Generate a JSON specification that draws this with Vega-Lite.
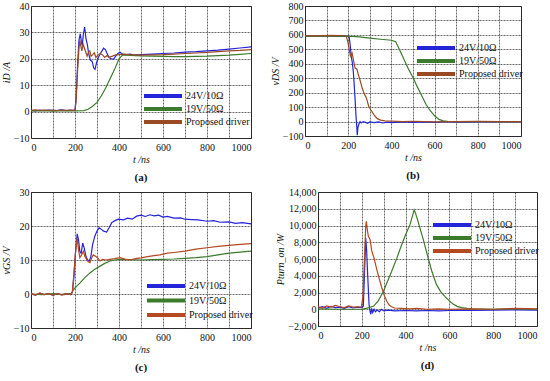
{
"$schema":"https://vega.github.io/schema/vega-lite/v6.json",
"padding":{"left":0,"top":0,"right":2,"bottom":0},
"background":"white",
"config":{
 "view":{"stroke":"#333","strokeWidth":1},
 "font":"Liberation Serif",
 "axis":{"grid":true,"gridColor":"#222","gridDash":[2,1],"gridWidth":0.8,"gridOpacity":0.85,"ticks":false,"domain":false,"labelFont":"Liberation Serif","labelFontSize":10,"labelColor":"#111","labelPadding":2,"titleFont":"Liberation Serif","titleFontSize":10,"titleFontStyle":"italic","titleFontWeight":"normal","titleColor":"#111","titlePadding":2},
 "axisX":{"format":"d","labelPadding":4},
 "legend":{"orient":"none","symbolType":"M-1,-0.5H8.5V0.5H-1Z","symbolStrokeWidth":0,"symbolSize":64,"symbolOpacity":1,"rowPadding":3,"labelFont":"Liberation Serif","labelFontSize":10,"labelColor":"#111","title":null,"labelOffset":33,"padding":0},
 "title":{"font":"Liberation Serif","fontSize":11,"fontWeight":"bold","color":"#111","offset":8},
 "line":{"strokeWidth":1.2}
},
"spacing":2,
"resolve":{"scale":{"fill":"independent"},"legend":{"fill":"independent"}},
"vconcat":[
{"hconcat":[
 {"width":220,"height":132,
  "data":{"values":[
   {"s":"24V/10Ω","t":0,"v":0.5},{"s":"24V/10Ω","t":20,"v":0.3},{"s":"24V/10Ω","t":40,"v":0.6},{"s":"24V/10Ω","t":60,"v":0.4},{"s":"24V/10Ω","t":80,"v":0.6},{"s":"24V/10Ω","t":100,"v":0.4},{"s":"24V/10Ω","t":120,"v":0.5},{"s":"24V/10Ω","t":140,"v":0.7},{"s":"24V/10Ω","t":160,"v":0.4},{"s":"24V/10Ω","t":180,"v":0.5},{"s":"24V/10Ω","t":200,"v":0.6},{"s":"24V/10Ω","t":205,"v":5},{"s":"24V/10Ω","t":212,"v":18},{"s":"24V/10Ω","t":218,"v":27},{"s":"24V/10Ω","t":224,"v":29.5},{"s":"24V/10Ω","t":229,"v":26.5},{"s":"24V/10Ω","t":233,"v":25},{"s":"24V/10Ω","t":238,"v":29.5},{"s":"24V/10Ω","t":244,"v":32},{"s":"24V/10Ω","t":250,"v":27.5},{"s":"24V/10Ω","t":256,"v":25.5},{"s":"24V/10Ω","t":262,"v":22},{"s":"24V/10Ω","t":270,"v":19.5},{"s":"24V/10Ω","t":278,"v":19},{"s":"24V/10Ω","t":285,"v":16.5},{"s":"24V/10Ω","t":291,"v":16},{"s":"24V/10Ω","t":298,"v":18.5},{"s":"24V/10Ω","t":306,"v":20.5},{"s":"24V/10Ω","t":315,"v":22},{"s":"24V/10Ω","t":323,"v":23},{"s":"24V/10Ω","t":330,"v":24},{"s":"24V/10Ω","t":338,"v":23.5},{"s":"24V/10Ω","t":346,"v":22},{"s":"24V/10Ω","t":355,"v":20.5},{"s":"24V/10Ω","t":365,"v":20},{"s":"24V/10Ω","t":375,"v":19.8},{"s":"24V/10Ω","t":385,"v":21},{"s":"24V/10Ω","t":395,"v":22},{"s":"24V/10Ω","t":405,"v":22.5},{"s":"24V/10Ω","t":415,"v":21.8},{"s":"24V/10Ω","t":430,"v":21.5},{"s":"24V/10Ω","t":450,"v":21.8},{"s":"24V/10Ω","t":470,"v":21.4},{"s":"24V/10Ω","t":500,"v":21.6},{"s":"24V/10Ω","t":550,"v":21.8},{"s":"24V/10Ω","t":600,"v":22},{"s":"24V/10Ω","t":650,"v":22.2},{"s":"24V/10Ω","t":700,"v":22.5},{"s":"24V/10Ω","t":750,"v":22.7},{"s":"24V/10Ω","t":800,"v":23},{"s":"24V/10Ω","t":850,"v":23.3},{"s":"24V/10Ω","t":900,"v":23.7},{"s":"24V/10Ω","t":950,"v":24.1},{"s":"24V/10Ω","t":1000,"v":24.5},
   {"s":"19V/50Ω","t":0,"v":0.3},{"s":"19V/50Ω","t":50,"v":0.4},{"s":"19V/50Ω","t":100,"v":0.2},{"s":"19V/50Ω","t":150,"v":0.4},{"s":"19V/50Ω","t":200,"v":0.3},{"s":"19V/50Ω","t":240,"v":0.4},{"s":"19V/50Ω","t":260,"v":0.9},{"s":"19V/50Ω","t":280,"v":2},{"s":"19V/50Ω","t":300,"v":3.5},{"s":"19V/50Ω","t":320,"v":6},{"s":"19V/50Ω","t":340,"v":9},{"s":"19V/50Ω","t":360,"v":12.5},{"s":"19V/50Ω","t":380,"v":16},{"s":"19V/50Ω","t":400,"v":20},{"s":"19V/50Ω","t":415,"v":21.3},{"s":"19V/50Ω","t":430,"v":21.5},{"s":"19V/50Ω","t":450,"v":21.3},{"s":"19V/50Ω","t":500,"v":21.1},{"s":"19V/50Ω","t":550,"v":21},{"s":"19V/50Ω","t":600,"v":20.9},{"s":"19V/50Ω","t":650,"v":20.8},{"s":"19V/50Ω","t":700,"v":20.8},{"s":"19V/50Ω","t":750,"v":20.9},{"s":"19V/50Ω","t":800,"v":21},{"s":"19V/50Ω","t":850,"v":21.2},{"s":"19V/50Ω","t":900,"v":21.4},{"s":"19V/50Ω","t":950,"v":21.7},{"s":"19V/50Ω","t":1000,"v":22},
   {"s":"Proposed driver","t":0,"v":0.5},{"s":"Proposed driver","t":20,"v":0.7},{"s":"Proposed driver","t":40,"v":0.4},{"s":"Proposed driver","t":60,"v":0.6},{"s":"Proposed driver","t":80,"v":0.5},{"s":"Proposed driver","t":100,"v":0.6},{"s":"Proposed driver","t":120,"v":0.4},{"s":"Proposed driver","t":140,"v":0.6},{"s":"Proposed driver","t":160,"v":0.5},{"s":"Proposed driver","t":180,"v":0.6},{"s":"Proposed driver","t":200,"v":0.5},{"s":"Proposed driver","t":205,"v":4},{"s":"Proposed driver","t":212,"v":16},{"s":"Proposed driver","t":218,"v":24},{"s":"Proposed driver","t":222,"v":27},{"s":"Proposed driver","t":226,"v":25},{"s":"Proposed driver","t":231,"v":23},{"s":"Proposed driver","t":237,"v":25.5},{"s":"Proposed driver","t":243,"v":24},{"s":"Proposed driver","t":249,"v":22.5},{"s":"Proposed driver","t":255,"v":21},{"s":"Proposed driver","t":261,"v":22.5},{"s":"Proposed driver","t":267,"v":23},{"s":"Proposed driver","t":273,"v":21},{"s":"Proposed driver","t":280,"v":21.5},{"s":"Proposed driver","t":288,"v":22.3},{"s":"Proposed driver","t":295,"v":20.5},{"s":"Proposed driver","t":305,"v":21.5},{"s":"Proposed driver","t":315,"v":22},{"s":"Proposed driver","t":325,"v":21.5},{"s":"Proposed driver","t":335,"v":20.5},{"s":"Proposed driver","t":345,"v":21.2},{"s":"Proposed driver","t":355,"v":20.6},{"s":"Proposed driver","t":370,"v":21},{"s":"Proposed driver","t":385,"v":21.5},{"s":"Proposed driver","t":400,"v":21.6},{"s":"Proposed driver","t":420,"v":21.8},{"s":"Proposed driver","t":450,"v":21.6},{"s":"Proposed driver","t":500,"v":21.4},{"s":"Proposed driver","t":550,"v":21.5},{"s":"Proposed driver","t":600,"v":21.6},{"s":"Proposed driver","t":650,"v":21.8},{"s":"Proposed driver","t":700,"v":22},{"s":"Proposed driver","t":750,"v":22.2},{"s":"Proposed driver","t":800,"v":22.4},{"s":"Proposed driver","t":850,"v":22.7},{"s":"Proposed driver","t":900,"v":23},{"s":"Proposed driver","t":950,"v":23.2},{"s":"Proposed driver","t":1000,"v":23.5}
  ]},
  "encoding":{
   "x":{"field":"t","type":"quantitative","scale":{"domain":[0,1000],"nice":false},"axis":{"values":[0,100,200,300,400,500,600,700,800,900,1000],"title":"t /ns"}},
   "y":{"field":"v","type":"quantitative","scale":{"domain":[-10,40],"nice":false},"axis":{"values":[-10,0,10,20,30,40],"title":"iD /A"}}
  },
  "layer":[
   {"transform":[{"filter":"datum.s === '24V/10Ω'"}],"mark":{"type":"line","color":"#2424d8"}},
   {"transform":[{"filter":"datum.s === '19V/50Ω'"}],"mark":{"type":"line","color":"#3c7a2c"}},
   {"transform":[{"filter":"datum.s === 'Proposed driver'"}],"mark":{"type":"line","color":"#9a4a22"}},
   {"transform":[{"filter":"datum.t < -1"}],"mark":{"type":"point","filled":true,"opacity":1,"size":64,"shape":"M-1,-0.5H8.5V0.5H-1Z"},"encoding":{"fill":{"field":"s","type":"nominal","scale":{"domain":["24V/10Ω","19V/50Ω","Proposed driver"],"range":["#2424d8","#3c7a2c","#9a4a22"]},"legend":{"legendX":112,"legendY":85}}}}
  ],
  "title":{"text":"(a)","orient":"bottom","frame":"group"}
 },
 {"width":216,"height":130,
  "data":{"values":[
   {"s":"24V/10Ω","t":0,"v":592},{"s":"24V/10Ω","t":50,"v":589},{"s":"24V/10Ω","t":100,"v":593},{"s":"24V/10Ω","t":150,"v":590},{"s":"24V/10Ω","t":200,"v":591},{"s":"24V/10Ω","t":205,"v":580},{"s":"24V/10Ω","t":210,"v":520},{"s":"24V/10Ω","t":214,"v":450},{"s":"24V/10Ω","t":219,"v":410},{"s":"24V/10Ω","t":224,"v":340},{"s":"24V/10Ω","t":228,"v":250},{"s":"24V/10Ω","t":232,"v":150},{"s":"24V/10Ω","t":236,"v":40},{"s":"24V/10Ω","t":239,"v":-20},{"s":"24V/10Ω","t":242,"v":-95},{"s":"24V/10Ω","t":245,"v":-40},{"s":"24V/10Ω","t":250,"v":-15},{"s":"24V/10Ω","t":255,"v":0},{"s":"24V/10Ω","t":260,"v":-10},{"s":"24V/10Ω","t":270,"v":0},{"s":"24V/10Ω","t":280,"v":-6},{"s":"24V/10Ω","t":290,"v":-12},{"s":"24V/10Ω","t":300,"v":-3},{"s":"24V/10Ω","t":320,"v":-8},{"s":"24V/10Ω","t":340,"v":-2},{"s":"24V/10Ω","t":360,"v":-10},{"s":"24V/10Ω","t":380,"v":-4},{"s":"24V/10Ω","t":400,"v":-8},{"s":"24V/10Ω","t":450,"v":-3},{"s":"24V/10Ω","t":500,"v":-6},{"s":"24V/10Ω","t":550,"v":-2},{"s":"24V/10Ω","t":600,"v":-5},{"s":"24V/10Ω","t":650,"v":-1},{"s":"24V/10Ω","t":700,"v":-4},{"s":"24V/10Ω","t":800,"v":-2},{"s":"24V/10Ω","t":900,"v":-3},{"s":"24V/10Ω","t":1000,"v":-2},
   {"s":"19V/50Ω","t":0,"v":590},{"s":"19V/50Ω","t":100,"v":591},{"s":"19V/50Ω","t":220,"v":590},{"s":"19V/50Ω","t":250,"v":586},{"s":"19V/50Ω","t":300,"v":578},{"s":"19V/50Ω","t":350,"v":570},{"s":"19V/50Ω","t":400,"v":563},{"s":"19V/50Ω","t":420,"v":553},{"s":"19V/50Ω","t":440,"v":490},{"s":"19V/50Ω","t":460,"v":425},{"s":"19V/50Ω","t":480,"v":360},{"s":"19V/50Ω","t":500,"v":305},{"s":"19V/50Ω","t":520,"v":240},{"s":"19V/50Ω","t":540,"v":180},{"s":"19V/50Ω","t":560,"v":120},{"s":"19V/50Ω","t":580,"v":75},{"s":"19V/50Ω","t":600,"v":40},{"s":"19V/50Ω","t":620,"v":15},{"s":"19V/50Ω","t":640,"v":5},{"s":"19V/50Ω","t":660,"v":2},{"s":"19V/50Ω","t":700,"v":0},{"s":"19V/50Ω","t":800,"v":0},{"s":"19V/50Ω","t":900,"v":-1},{"s":"19V/50Ω","t":1000,"v":0},
   {"s":"Proposed driver","t":0,"v":595},{"s":"Proposed driver","t":60,"v":593},{"s":"Proposed driver","t":120,"v":596},{"s":"Proposed driver","t":185,"v":594},{"s":"Proposed driver","t":192,"v":588},{"s":"Proposed driver","t":200,"v":540},{"s":"Proposed driver","t":210,"v":455},{"s":"Proposed driver","t":218,"v":475},{"s":"Proposed driver","t":225,"v":420},{"s":"Proposed driver","t":232,"v":370},{"s":"Proposed driver","t":240,"v":365},{"s":"Proposed driver","t":248,"v":320},{"s":"Proposed driver","t":256,"v":280},{"s":"Proposed driver","t":265,"v":230},{"s":"Proposed driver","t":275,"v":190},{"s":"Proposed driver","t":285,"v":160},{"s":"Proposed driver","t":295,"v":105},{"s":"Proposed driver","t":305,"v":80},{"s":"Proposed driver","t":320,"v":45},{"s":"Proposed driver","t":335,"v":20},{"s":"Proposed driver","t":350,"v":10},{"s":"Proposed driver","t":370,"v":5},{"s":"Proposed driver","t":400,"v":3},{"s":"Proposed driver","t":450,"v":0},{"s":"Proposed driver","t":500,"v":2},{"s":"Proposed driver","t":600,"v":-2},{"s":"Proposed driver","t":700,"v":0},{"s":"Proposed driver","t":800,"v":1},{"s":"Proposed driver","t":900,"v":-1},{"s":"Proposed driver","t":1000,"v":0}
  ]},
  "encoding":{
   "x":{"field":"t","type":"quantitative","scale":{"domain":[0,1000],"nice":false},"axis":{"values":[0,100,200,300,400,500,600,700,800,900,1000],"title":"t /ns"}},
   "y":{"field":"v","type":"quantitative","scale":{"domain":[-100,800],"nice":false},"axis":{"values":[-100,0,100,200,300,400,500,600,700,800],"title":"vDS /V"}}
  },
  "layer":[
   {"transform":[{"filter":"datum.s === '24V/10Ω'"}],"mark":{"type":"line","color":"#2424d8"}},
   {"transform":[{"filter":"datum.s === '19V/50Ω'"}],"mark":{"type":"line","color":"#3c7a2c"}},
   {"transform":[{"filter":"datum.s === 'Proposed driver'"}],"mark":{"type":"line","color":"#9a4a22"}},
   {"transform":[{"filter":"datum.t < -1"}],"mark":{"type":"point","filled":true,"opacity":1,"size":64,"shape":"M-1,-0.5H8.5V0.5H-1Z"},"encoding":{"fill":{"field":"s","type":"nominal","scale":{"domain":["24V/10Ω","19V/50Ω","Proposed driver"],"range":["#2424d8","#3c7a2c","#9a4a22"]},"legend":{"legendX":111,"legendY":37}}}}
  ],
  "title":{"text":"(b)","orient":"bottom","frame":"group"}
 }
],"spacing":15,"resolve":{"scale":{"fill":"independent"},"legend":{"fill":"independent"}}},
{"hconcat":[
 {"width":220,"height":136,
  "data":{"values":[
   {"s":"24V/10Ω","t":0,"v":0},{"s":"24V/10Ω","t":20,"v":-0.3},{"s":"24V/10Ω","t":40,"v":0.2},{"s":"24V/10Ω","t":60,"v":-0.2},{"s":"24V/10Ω","t":80,"v":0.1},{"s":"24V/10Ω","t":100,"v":-0.3},{"s":"24V/10Ω","t":120,"v":0},{"s":"24V/10Ω","t":140,"v":-0.2},{"s":"24V/10Ω","t":160,"v":0.1},{"s":"24V/10Ω","t":180,"v":-0.2},{"s":"24V/10Ω","t":188,"v":0.5},{"s":"24V/10Ω","t":195,"v":5},{"s":"24V/10Ω","t":202,"v":12},{"s":"24V/10Ω","t":210,"v":17.7},{"s":"24V/10Ω","t":216,"v":16},{"s":"24V/10Ω","t":222,"v":12.5},{"s":"24V/10Ω","t":228,"v":12},{"s":"24V/10Ω","t":235,"v":15},{"s":"24V/10Ω","t":242,"v":13.5},{"s":"24V/10Ω","t":250,"v":11},{"s":"24V/10Ω","t":258,"v":10},{"s":"24V/10Ω","t":265,"v":9.7},{"s":"24V/10Ω","t":272,"v":11},{"s":"24V/10Ω","t":280,"v":14.5},{"s":"24V/10Ω","t":290,"v":17},{"s":"24V/10Ω","t":300,"v":18.5},{"s":"24V/10Ω","t":310,"v":19.5},{"s":"24V/10Ω","t":320,"v":19},{"s":"24V/10Ω","t":330,"v":18.5},{"s":"24V/10Ω","t":344,"v":18.2},{"s":"24V/10Ω","t":355,"v":19.5},{"s":"24V/10Ω","t":367,"v":21},{"s":"24V/10Ω","t":380,"v":21.5},{"s":"24V/10Ω","t":397,"v":22},{"s":"24V/10Ω","t":420,"v":21.8},{"s":"24V/10Ω","t":440,"v":22.3},{"s":"24V/10Ω","t":460,"v":22},{"s":"24V/10Ω","t":480,"v":22.9},{"s":"24V/10Ω","t":500,"v":23.2},{"s":"24V/10Ω","t":520,"v":22.8},{"s":"24V/10Ω","t":540,"v":23.3},{"s":"24V/10Ω","t":560,"v":23},{"s":"24V/10Ω","t":580,"v":23.2},{"s":"24V/10Ω","t":600,"v":22.6},{"s":"24V/10Ω","t":620,"v":22.8},{"s":"24V/10Ω","t":650,"v":22.3},{"s":"24V/10Ω","t":680,"v":22.4},{"s":"24V/10Ω","t":700,"v":22},{"s":"24V/10Ω","t":730,"v":21.9},{"s":"24V/10Ω","t":760,"v":21.8},{"s":"24V/10Ω","t":800,"v":21.4},{"s":"24V/10Ω","t":830,"v":21.6},{"s":"24V/10Ω","t":860,"v":21.1},{"s":"24V/10Ω","t":900,"v":21.2},{"s":"24V/10Ω","t":930,"v":20.8},{"s":"24V/10Ω","t":960,"v":21},{"s":"24V/10Ω","t":1000,"v":20.6},
   {"s":"19V/50Ω","t":0,"v":0},{"s":"19V/50Ω","t":50,"v":-0.2},{"s":"19V/50Ω","t":100,"v":0.1},{"s":"19V/50Ω","t":150,"v":-0.2},{"s":"19V/50Ω","t":185,"v":0.2},{"s":"19V/50Ω","t":190,"v":1},{"s":"19V/50Ω","t":200,"v":1.8},{"s":"19V/50Ω","t":222,"v":3.2},{"s":"19V/50Ω","t":245,"v":4.8},{"s":"19V/50Ω","t":268,"v":6.2},{"s":"19V/50Ω","t":290,"v":7.3},{"s":"19V/50Ω","t":314,"v":8.2},{"s":"19V/50Ω","t":335,"v":9},{"s":"19V/50Ω","t":359,"v":9.7},{"s":"19V/50Ω","t":380,"v":10},{"s":"19V/50Ω","t":405,"v":10.2},{"s":"19V/50Ω","t":450,"v":10.1},{"s":"19V/50Ω","t":500,"v":10},{"s":"19V/50Ω","t":550,"v":10.1},{"s":"19V/50Ω","t":600,"v":10.2},{"s":"19V/50Ω","t":650,"v":10.3},{"s":"19V/50Ω","t":700,"v":10.5},{"s":"19V/50Ω","t":750,"v":10.7},{"s":"19V/50Ω","t":800,"v":11},{"s":"19V/50Ω","t":850,"v":11.5},{"s":"19V/50Ω","t":900,"v":12},{"s":"19V/50Ω","t":950,"v":12.3},{"s":"19V/50Ω","t":1000,"v":12.6},
   {"s":"Proposed driver","t":0,"v":0.2},{"s":"Proposed driver","t":20,"v":-0.3},{"s":"Proposed driver","t":40,"v":0.3},{"s":"Proposed driver","t":60,"v":-0.2},{"s":"Proposed driver","t":80,"v":0.1},{"s":"Proposed driver","t":100,"v":-0.4},{"s":"Proposed driver","t":120,"v":0.2},{"s":"Proposed driver","t":140,"v":-0.3},{"s":"Proposed driver","t":160,"v":0.1},{"s":"Proposed driver","t":180,"v":-0.2},{"s":"Proposed driver","t":188,"v":0.5},{"s":"Proposed driver","t":195,"v":6},{"s":"Proposed driver","t":202,"v":12},{"s":"Proposed driver","t":210,"v":16.6},{"s":"Proposed driver","t":216,"v":13},{"s":"Proposed driver","t":222,"v":10.7},{"s":"Proposed driver","t":230,"v":11.5},{"s":"Proposed driver","t":238,"v":12.6},{"s":"Proposed driver","t":245,"v":11},{"s":"Proposed driver","t":253,"v":10.2},{"s":"Proposed driver","t":260,"v":9.5},{"s":"Proposed driver","t":268,"v":9.2},{"s":"Proposed driver","t":275,"v":10.5},{"s":"Proposed driver","t":283,"v":11.5},{"s":"Proposed driver","t":295,"v":11},{"s":"Proposed driver","t":305,"v":10.5},{"s":"Proposed driver","t":314,"v":9.7},{"s":"Proposed driver","t":325,"v":10.2},{"s":"Proposed driver","t":340,"v":10},{"s":"Proposed driver","t":359,"v":10.2},{"s":"Proposed driver","t":380,"v":10.4},{"s":"Proposed driver","t":405,"v":10.7},{"s":"Proposed driver","t":430,"v":10.2},{"s":"Proposed driver","t":450,"v":10},{"s":"Proposed driver","t":480,"v":10.5},{"s":"Proposed driver","t":500,"v":10.6},{"s":"Proposed driver","t":530,"v":11},{"s":"Proposed driver","t":560,"v":11.3},{"s":"Proposed driver","t":586,"v":11.5},{"s":"Proposed driver","t":620,"v":12},{"s":"Proposed driver","t":650,"v":12.2},{"s":"Proposed driver","t":700,"v":12.6},{"s":"Proposed driver","t":750,"v":13.2},{"s":"Proposed driver","t":800,"v":13.6},{"s":"Proposed driver","t":850,"v":14},{"s":"Proposed driver","t":900,"v":14.3},{"s":"Proposed driver","t":950,"v":14.6},{"s":"Proposed driver","t":1000,"v":14.8}
  ]},
  "encoding":{
   "x":{"field":"t","type":"quantitative","scale":{"domain":[0,1000],"nice":false},"axis":{"values":[0,100,200,300,400,500,600,700,800,900,1000],"title":"t /ns"}},
   "y":{"field":"v","type":"quantitative","scale":{"domain":[-10,30],"nice":false},"axis":{"values":[-10,0,10,20,30],"title":"vGS /V"}}
  },
  "layer":[
   {"transform":[{"filter":"datum.s === '24V/10Ω'"}],"mark":{"type":"line","color":"#2424d8"}},
   {"transform":[{"filter":"datum.s === '19V/50Ω'"}],"mark":{"type":"line","color":"#3c7a2c"}},
   {"transform":[{"filter":"datum.s === 'Proposed driver'"}],"mark":{"type":"line","color":"#b44820"}},
   {"transform":[{"filter":"datum.t < -1"}],"mark":{"type":"point","filled":true,"opacity":1,"size":64,"shape":"M-1,-0.5H8.5V0.5H-1Z"},"encoding":{"fill":{"field":"s","type":"nominal","scale":{"domain":["24V/10Ω","19V/50Ω","Proposed driver"],"range":["#2424d8","#3c7a2c","#b44820"]},"legend":{"legendX":115,"legendY":89,"rowPadding":4.5}}}}
  ],
  "title":{"text":"(c)","orient":"bottom","frame":"group"}
 },
 {"width":219,"height":134,
  "data":{"values":[
   {"s":"24V/10Ω","t":0,"v":150},{"s":"24V/10Ω","t":20,"v":300},{"s":"24V/10Ω","t":40,"v":100},{"s":"24V/10Ω","t":60,"v":350},{"s":"24V/10Ω","t":80,"v":200},{"s":"24V/10Ω","t":100,"v":250},{"s":"24V/10Ω","t":120,"v":100},{"s":"24V/10Ω","t":140,"v":300},{"s":"24V/10Ω","t":160,"v":150},{"s":"24V/10Ω","t":180,"v":250},{"s":"24V/10Ω","t":200,"v":200},{"s":"24V/10Ω","t":207,"v":400},{"s":"24V/10Ω","t":212,"v":4000},{"s":"24V/10Ω","t":218,"v":8500},{"s":"24V/10Ω","t":222,"v":7000},{"s":"24V/10Ω","t":227,"v":4000},{"s":"24V/10Ω","t":233,"v":600},{"s":"24V/10Ω","t":238,"v":-300},{"s":"24V/10Ω","t":241,"v":-600},{"s":"24V/10Ω","t":245,"v":100},{"s":"24V/10Ω","t":250,"v":-400},{"s":"24V/10Ω","t":256,"v":0},{"s":"24V/10Ω","t":262,"v":-300},{"s":"24V/10Ω","t":270,"v":-100},{"s":"24V/10Ω","t":280,"v":-300},{"s":"24V/10Ω","t":290,"v":0},{"s":"24V/10Ω","t":300,"v":-200},{"s":"24V/10Ω","t":320,"v":-100},{"s":"24V/10Ω","t":350,"v":-200},{"s":"24V/10Ω","t":400,"v":-150},{"s":"24V/10Ω","t":450,"v":-200},{"s":"24V/10Ω","t":500,"v":-150},{"s":"24V/10Ω","t":550,"v":-200},{"s":"24V/10Ω","t":600,"v":-150},{"s":"24V/10Ω","t":650,"v":-100},{"s":"24V/10Ω","t":700,"v":-150},{"s":"24V/10Ω","t":800,"v":-100},{"s":"24V/10Ω","t":900,"v":-80},{"s":"24V/10Ω","t":1000,"v":-100},
   {"s":"19V/50Ω","t":0,"v":50},{"s":"19V/50Ω","t":100,"v":0},{"s":"19V/50Ω","t":200,"v":0},{"s":"19V/50Ω","t":220,"v":100},{"s":"19V/50Ω","t":253,"v":350},{"s":"19V/50Ω","t":275,"v":1000},{"s":"19V/50Ω","t":298,"v":2100},{"s":"19V/50Ω","t":320,"v":3500},{"s":"19V/50Ω","t":336,"v":4500},{"s":"19V/50Ω","t":360,"v":6100},{"s":"19V/50Ω","t":382,"v":7700},{"s":"19V/50Ω","t":400,"v":8900},{"s":"19V/50Ω","t":420,"v":10100},{"s":"19V/50Ω","t":432,"v":11200},{"s":"19V/50Ω","t":439,"v":11850},{"s":"19V/50Ω","t":445,"v":11500},{"s":"19V/50Ω","t":460,"v":10200},{"s":"19V/50Ω","t":480,"v":8400},{"s":"19V/50Ω","t":500,"v":6400},{"s":"19V/50Ω","t":519,"v":4600},{"s":"19V/50Ω","t":540,"v":3000},{"s":"19V/50Ω","t":560,"v":2100},{"s":"19V/50Ω","t":580,"v":1500},{"s":"19V/50Ω","t":600,"v":1000},{"s":"19V/50Ω","t":615,"v":650},{"s":"19V/50Ω","t":635,"v":350},{"s":"19V/50Ω","t":656,"v":200},{"s":"19V/50Ω","t":680,"v":100},{"s":"19V/50Ω","t":700,"v":50},{"s":"19V/50Ω","t":800,"v":0},{"s":"19V/50Ω","t":900,"v":50},{"s":"19V/50Ω","t":1000,"v":0},
   {"s":"Proposed driver","t":0,"v":300},{"s":"Proposed driver","t":20,"v":150},{"s":"Proposed driver","t":40,"v":400},{"s":"Proposed driver","t":60,"v":250},{"s":"Proposed driver","t":80,"v":450},{"s":"Proposed driver","t":100,"v":300},{"s":"Proposed driver","t":120,"v":200},{"s":"Proposed driver","t":140,"v":400},{"s":"Proposed driver","t":160,"v":250},{"s":"Proposed driver","t":180,"v":300},{"s":"Proposed driver","t":198,"v":250},{"s":"Proposed driver","t":205,"v":1500},{"s":"Proposed driver","t":212,"v":6000},{"s":"Proposed driver","t":218,"v":10000},{"s":"Proposed driver","t":221,"v":10500},{"s":"Proposed driver","t":225,"v":9500},{"s":"Proposed driver","t":230,"v":8700},{"s":"Proposed driver","t":238,"v":8300},{"s":"Proposed driver","t":245,"v":7000},{"s":"Proposed driver","t":255,"v":6200},{"s":"Proposed driver","t":268,"v":4800},{"s":"Proposed driver","t":280,"v":3600},{"s":"Proposed driver","t":291,"v":2600},{"s":"Proposed driver","t":302,"v":1700},{"s":"Proposed driver","t":314,"v":950},{"s":"Proposed driver","t":325,"v":500},{"s":"Proposed driver","t":336,"v":300},{"s":"Proposed driver","t":350,"v":150},{"s":"Proposed driver","t":380,"v":100},{"s":"Proposed driver","t":420,"v":50},{"s":"Proposed driver","t":450,"v":100},{"s":"Proposed driver","t":500,"v":0},{"s":"Proposed driver","t":550,"v":50},{"s":"Proposed driver","t":600,"v":0},{"s":"Proposed driver","t":700,"v":50},{"s":"Proposed driver","t":800,"v":0},{"s":"Proposed driver","t":900,"v":100},{"s":"Proposed driver","t":1000,"v":50}
  ]},
  "encoding":{
   "x":{"field":"t","type":"quantitative","scale":{"domain":[0,1000],"nice":false},"axis":{"values":[0,100,200,300,400,500,600,700,800,900,1000],"title":"t /ns"}},
   "y":{"field":"v","type":"quantitative","scale":{"domain":[-2000,14000],"nice":false},"axis":{"values":[-2000,0,2000,4000,6000,8000,10000,12000,14000],"format":",.0f","title":"Pturn_on /W"}}
  },
  "layer":[
   {"transform":[{"filter":"datum.s === '24V/10Ω'"}],"mark":{"type":"line","color":"#2424d8"}},
   {"transform":[{"filter":"datum.s === '19V/50Ω'"}],"mark":{"type":"line","color":"#3c7a2c"}},
   {"transform":[{"filter":"datum.s === 'Proposed driver'"}],"mark":{"type":"line","color":"#b44820"}},
   {"transform":[{"filter":"datum.t < -1"}],"mark":{"type":"point","filled":true,"opacity":1,"size":64,"shape":"M-1,-0.5H8.5V0.5H-1Z"},"encoding":{"fill":{"field":"s","type":"nominal","scale":{"domain":["24V/10Ω","19V/50Ω","Proposed driver"],"range":["#2424d8","#3c7a2c","#b44820"]},"legend":{"legendX":114,"legendY":28}}}}
  ],
  "title":{"text":"(d)","orient":"bottom","frame":"group"}
 }
],"spacing":21,"resolve":{"scale":{"fill":"independent"},"legend":{"fill":"independent"}}}
]
}
